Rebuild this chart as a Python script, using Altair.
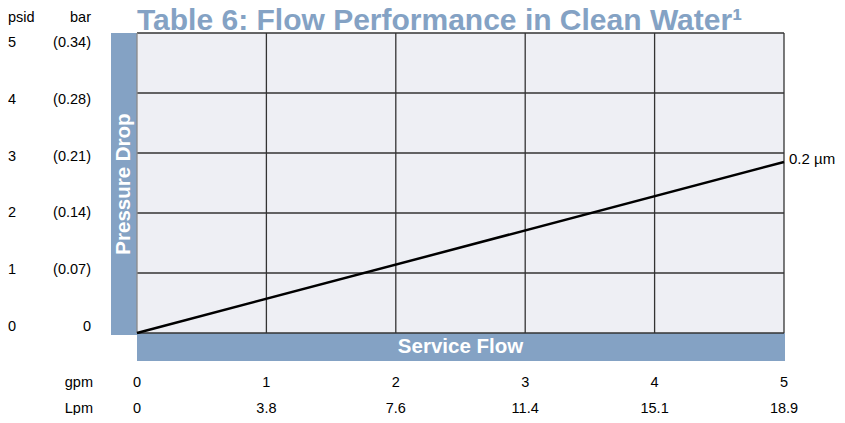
import altair as alt
import pandas as pd

# ---- data ----
gpm = [0, 1, 2, 3, 4, 5]
lpm = ["0", "3.8", "7.6", "11.4", "15.1", "18.9"]
psid = [0, 1, 2, 3, 4, 5]
bar = ["0", "(0.07)", "(0.14)", "(0.21)", "(0.28)", "(0.34)"]
line_gpm = [0, 5]
line_psid = [0, 2.85]
series_name = ["0.2 µm"]
title_text = ["Table 6: Flow Performance in Clean Water¹"]
y_title = ["Pressure Drop"]
x_title = ["Service Flow"]

BLUE = "#84A2C4"
FONT = "Liberation Sans"
W, H = 647, 300

xs = alt.Scale(domain=[0, 5], nice=False, zero=False)
ys = alt.Scale(domain=[0, 5], nice=False)

line_df = pd.DataFrame({"gpm": line_gpm, "psid": line_psid})
tick_df = pd.DataFrame({"gpm": gpm, "lpm": lpm})
ylab_df = pd.DataFrame({"psid": psid, "bar": bar})
end_df = pd.DataFrame({"gpm": [line_gpm[-1]], "psid": [line_psid[-1]], "name": series_name})
one = pd.DataFrame({"k": [0]})

left_band = alt.Chart(one).mark_rect(color=BLUE).encode(
    x=alt.value(-26), x2=alt.value(0), y=alt.value(0), y2=alt.value(302)
)
bottom_band = alt.Chart(one).mark_rect(color=BLUE).encode(
    x=alt.value(0), x2=alt.value(W + 1), y=alt.value(H), y2=alt.value(H + 28)
)

hgrid = alt.Chart(pd.DataFrame({"psid": psid})).mark_rule(strokeWidth=1.3, color="#333333").encode(
    y=alt.Y("psid:Q", scale=ys, axis=None), x=alt.value(0), x2=alt.value(W)
)
vgrid = alt.Chart(pd.DataFrame({"gpm": gpm})).mark_rule(strokeWidth=1.3).encode(
    x=alt.X("gpm:Q", scale=xs, axis=None), y=alt.value(0), y2=alt.value(H),
    color=alt.condition("datum.gpm == 0", alt.value("#8a8a8a"), alt.value("#333333")),
)

line = alt.Chart(line_df).mark_line(color="black", strokeWidth=2.5).encode(
    x=alt.X("gpm:Q", scale=xs, axis=None),
    y=alt.Y("psid:Q", scale=ys, axis=None),
)

end_label = alt.Chart(end_df).mark_text(align="left", baseline="middle", dx=5, dy=-3,
                                        font=FONT, fontSize=15, color="black").encode(
    x=alt.X("gpm:Q", scale=xs, axis=None),
    y=alt.Y("psid:Q", scale=ys, axis=None),
    text="name:N",
)

lab_scale = alt.Scale(domain=[0, 5], range=[294, 10], nice=False)
psid_labels = alt.Chart(ylab_df).mark_text(align="left", baseline="middle", font=FONT,
                                           fontSize=14.5, color="black").encode(
    x=alt.value(-129),
    y=alt.Y("psid:Q", scale=lab_scale, axis=None),
    text="psid:Q",
)
bar_labels = alt.Chart(ylab_df).mark_text(align="right", baseline="middle", font=FONT,
                                          fontSize=14.5, color="black").encode(
    x=alt.value(-46),
    y=alt.Y("psid:Q", scale=lab_scale, axis=None),
    text="bar:N",
)
hdr_psid = alt.Chart(pd.DataFrame({"t": ["psid"]})).mark_text(
    align="left", baseline="middle", font=FONT, fontSize=14.5, color="black"
).encode(x=alt.value(-129), y=alt.value(-15), text="t:N")
hdr_bar = alt.Chart(pd.DataFrame({"t": ["bar"]})).mark_text(
    align="right", baseline="middle", font=FONT, fontSize=14.5, color="black"
).encode(x=alt.value(-46), y=alt.value(-15), text="t:N")

gpm_labels = alt.Chart(tick_df).mark_text(align="center", baseline="middle", font=FONT,
                                          fontSize=14.5, color="black").encode(
    x=alt.X("gpm:Q", scale=xs, axis=None), y=alt.value(350), text="gpm:Q"
)
lpm_labels = alt.Chart(tick_df).mark_text(align="center", baseline="middle", font=FONT,
                                          fontSize=14.5, color="black").encode(
    x=alt.X("gpm:Q", scale=xs, axis=None), y=alt.value(376), text="lpm:N"
)
hdr_gpm = alt.Chart(pd.DataFrame({"t": ["gpm"]})).mark_text(
    align="right", baseline="middle", font=FONT, fontSize=14.5, color="black"
).encode(x=alt.value(-44), y=alt.value(350), text="t:N")
hdr_lpm = alt.Chart(pd.DataFrame({"t": ["Lpm"]})).mark_text(
    align="right", baseline="middle", font=FONT, fontSize=14.5, color="black"
).encode(x=alt.value(-44), y=alt.value(376), text="t:N")

ytitle = alt.Chart(pd.DataFrame({"t": y_title})).mark_text(
    angle=270, align="center", baseline="middle", font=FONT, fontSize=20.5,
    fontWeight="bold", color="white"
).encode(x=alt.value(-13), y=alt.value(151), text="t:N")
xtitle = alt.Chart(pd.DataFrame({"t": x_title})).mark_text(
    align="center", baseline="middle", font=FONT, fontSize=20.5,
    fontWeight="bold", color="white"
).encode(x=alt.value(W / 2), y=alt.value(H + 14), text="t:N")

title = alt.Chart(pd.DataFrame({"t": title_text})).mark_text(
    align="left", baseline="alphabetic", font=FONT, fontSize=30,
    fontWeight="bold", color=BLUE
).encode(x=alt.value(0), y=alt.value(-3.5), text="t:N")

chart = alt.layer(
    left_band, bottom_band, hgrid, vgrid, line, end_label, psid_labels, bar_labels,
    hdr_psid, hdr_bar, gpm_labels, lpm_labels, hdr_gpm, hdr_lpm, ytitle, xtitle, title
).resolve_scale(y="independent").properties(
    width=W, height=H,
    autosize=alt.AutoSizeParams(type="none"),
    padding={"left": 129, "top": 25, "right": 53, "bottom": 82},
).configure_view(fill="#EEEFF4", stroke=None)

chart.save("out.html", embed_options={"renderer": "svg", "actions": False})
